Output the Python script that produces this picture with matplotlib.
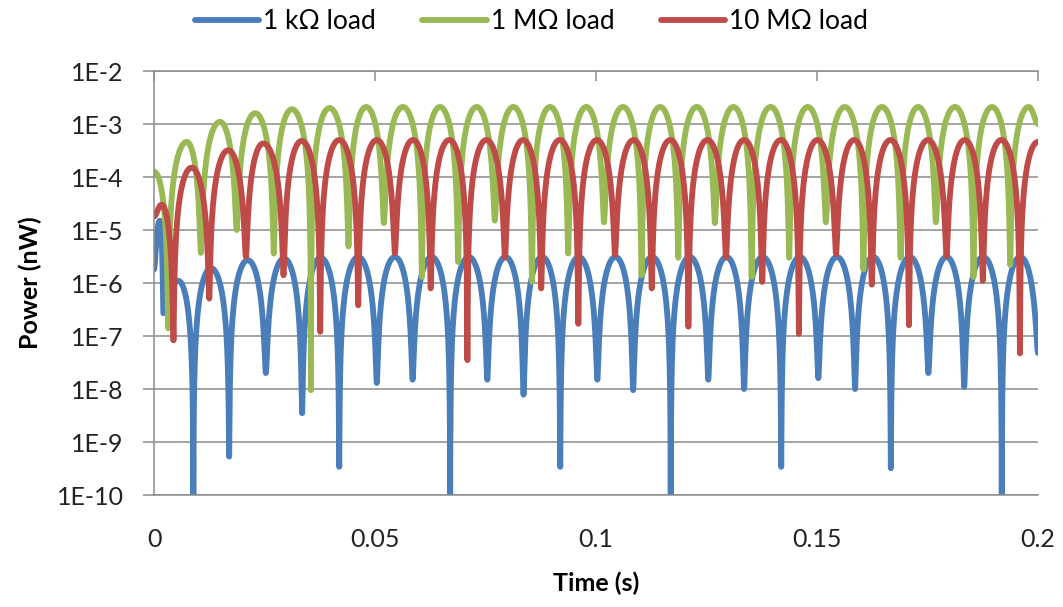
import numpy as np
import matplotlib.pyplot as plt
from matplotlib.ticker import FixedLocator, FuncFormatter, NullLocator

plt.rcParams['font.family'] = ['Lato', 'DejaVu Sans']

# turning points of each trace (time in s, power in nW): start, then dip/peak pairs, then end
blue_t = [0, 0.0013, 0.0021, 0.0055,
          0.0089, 0.0129, 0.0170, 0.0212, 0.0253, 0.0294, 0.0335, 0.0377,
          0.0419, 0.0462, 0.0504, 0.0545, 0.0585, 0.0628, 0.0670, 0.0712,
          0.0754, 0.0795, 0.0836, 0.0878, 0.0919, 0.0961, 0.1003, 0.1044,
          0.1084, 0.1127, 0.1169, 0.1212, 0.1254, 0.1295, 0.1335, 0.1377,
          0.1419, 0.1461, 0.1503, 0.1545, 0.1586, 0.1627, 0.1667, 0.1710,
          0.1752, 0.1793, 0.1833, 0.1876, 0.1918, 0.1960, 0.2000]
blue_p = [1.8e-6, 1.5e-5, 2.7e-7, 1.1e-6,
          1e-10, 1.9e-6, 5.3e-10, 2.7e-6, 2e-8, 2.9e-6, 3.5e-9, 3.0e-6,
          3.4e-10, 3.1e-6, 1.3e-8, 3.1e-6, 1.5e-8, 3.1e-6, 1e-10, 3.1e-6,
          1.5e-8, 3.1e-6, 7.8e-9, 3.1e-6, 3.4e-10, 3.1e-6, 1.5e-8, 3.1e-6,
          9.5e-9, 3.1e-6, 1e-10, 3.1e-6, 1.5e-8, 3.1e-6, 1e-8, 3.1e-6,
          3.4e-10, 3.1e-6, 1.6e-8, 3.1e-6, 1e-8, 3.1e-6, 3.2e-10, 3.1e-6,
          2e-8, 3.1e-6, 1.1e-8, 3.1e-6, 1e-10, 3.1e-6, 4.8e-8]

green_t = [0,
           0.0032, 0.0074, 0.0106, 0.0149, 0.0187, 0.0229, 0.0271, 0.0312,
           0.0355, 0.0397, 0.0440, 0.0480, 0.0520, 0.0563, 0.0606, 0.0647,
           0.0688, 0.0730, 0.0771, 0.0813, 0.0855, 0.0896, 0.0937, 0.0978,
           0.1018, 0.1061, 0.1103, 0.1145, 0.1186, 0.1228, 0.1269, 0.1311,
           0.1352, 0.1395, 0.1437, 0.1479, 0.1520, 0.1563, 0.1605, 0.1647,
           0.1689, 0.1729, 0.1769, 0.1812, 0.1854, 0.1896, 0.1937, 0.1979,
           0.2000]
green_p = [1.26e-4,
           1.4e-7, 4.6e-4, 3.7e-6, 1.1e-3, 1e-5, 1.6e-3, 3.6e-6, 1.9e-3,
           9.5e-9, 2.0e-3, 4.9e-6, 2.1e-3, 1.35e-5, 2.1e-3, 1.3e-6, 2.1e-3,
           2.5e-6, 2.1e-3, 1.5e-5, 2.1e-3, 1.05e-6, 2.1e-3, 3.6e-6, 2.1e-3,
           1.4e-5, 2.1e-3, 1.4e-6, 2.1e-3, 3e-6, 2.1e-3, 1.35e-5, 2.1e-3,
           1.3e-6, 2.1e-3, 3e-6, 2.1e-3, 1.4e-5, 2.1e-3, 1.8e-6, 2.1e-3,
           3e-6, 2.1e-3, 1.4e-5, 2.1e-3, 1.3e-6, 2.1e-3, 2.2e-6, 2.1e-3,
           1.0e-3]

red_t = [0, 0.0017,
         0.0044, 0.0085, 0.0125, 0.0168, 0.0208, 0.0247, 0.0293, 0.0334,
         0.0376, 0.0419, 0.0462, 0.0504, 0.0545, 0.0586, 0.0626, 0.0668,
         0.0709, 0.0752, 0.0794, 0.0835, 0.0876, 0.0918, 0.0960, 0.1002,
         0.1043, 0.1085, 0.1126, 0.1168, 0.1209, 0.1252, 0.1294, 0.1335,
         0.1376, 0.1418, 0.1459, 0.1501, 0.1543, 0.1584, 0.1624, 0.1666,
         0.1708, 0.1751, 0.1793, 0.1834, 0.1875, 0.1917, 0.1959, 0.2000]
red_p = [1.8e-5, 3.0e-5,
         8.3e-8, 1.5e-4, 5.1e-7, 3.2e-4, 3.1e-6, 4.3e-4, 1.4e-6, 4.8e-4,
         1.2e-7, 5e-4, 3.8e-7, 5e-4, 3.6e-6, 5e-4, 7.9e-7, 5e-4,
         3.5e-8, 5e-4, 3e-6, 5e-4, 7.9e-7, 5e-4, 1.7e-7, 5e-4,
         3.4e-6, 5e-4, 7.9e-7, 5e-4, 1.5e-7, 5e-4, 3e-6, 5e-4,
         1.05e-6, 5e-4, 1.1e-7, 5e-4, 3.5e-6, 5e-4, 9.3e-7, 5e-4,
         1.6e-7, 5e-4, 3.2e-6, 5e-4, 1.1e-6, 5e-4, 4.7e-8, 4.6e-4]

labels = ['1 k\u03a9 load', '1 M\u03a9 load', '10 M\u03a9 load']
colors = ['#4a7ebb', '#98b954', '#be4b48']
y_ticks = [1e-10, 1e-9, 1e-8, 1e-7, 1e-6, 1e-5, 1e-4, 1e-3, 1e-2]
x_ticks = [0, 0.05, 0.1, 0.15, 0.2]


def trace(t_key, p_key, n=80):
    # smooth swing between successive turning points
    ts, ps = [], []
    for i in range(len(t_key) - 1):
        s = np.linspace(0, 1, n, endpoint=False)
        w = np.cos(np.pi / 2 * s) ** 2
        ts.append(t_key[i] + (t_key[i + 1] - t_key[i]) * s)
        ps.append(p_key[i + 1] + (p_key[i] - p_key[i + 1]) * w)
    ts.append([t_key[-1]])
    ps.append([p_key[-1]])
    return np.concatenate(ts), np.concatenate(ps)


fig = plt.figure(figsize=(10.63, 6.07), dpi=100)
ax = fig.add_axes([0.1449, 0.1845, 0.8316, 0.6985])

grid_c = '#8c8c8c'
for t_key, p_key, c, lab in zip([blue_t, green_t, red_t], [blue_p, green_p, red_p], colors, labels):
    t, p = trace(t_key, p_key)
    ax.plot(t, p, color=c, lw=4.2, label=lab, solid_capstyle='round', solid_joinstyle='round')

ax.set_yscale('log')
ax.set_ylim(1e-10, 1e-2)
ax.set_xlim(0, 0.2)

ax.yaxis.set_major_locator(FixedLocator(y_ticks))
ax.yaxis.set_minor_locator(NullLocator())
ax.yaxis.set_major_formatter(FuncFormatter(lambda v, pos: '1E%d' % round(np.log10(v))))
ax.xaxis.set_major_locator(FixedLocator(x_ticks))
ax.xaxis.set_major_formatter(FuncFormatter(lambda v, pos: '%g' % v))

ax.grid(axis='y', color=grid_c, lw=1.1)
ax.set_axisbelow(True)
for side in ['left', 'top', 'bottom']:
    ax.spines[side].set_color(grid_c)
    ax.spines[side].set_linewidth(1.1)
ax.spines['right'].set_visible(False)

ax.tick_params(axis='y', direction='out', length=8, width=1.1, color=grid_c,
               labelsize=18, pad=14, labelcolor='#222222')
ax.tick_params(axis='x', top=True, bottom=False, labeltop=False, labelbottom=True,
               direction='in', length=7, width=1.1, color=grid_c,
               labelsize=18, pad=24, labelcolor='#222222')

ax.set_ylabel('Power (nW)', fontsize=18, fontweight='bold')
ax.yaxis.set_label_coords(-0.127, 0.5)
ax.set_xlabel('Time (s)', fontsize=18, fontweight='bold')
ax.xaxis.set_label_coords(0.5, -0.18)

fig.legend(loc='center', bbox_to_anchor=(0.5, 0.964), ncol=3, frameon=False,
           fontsize=19, handlelength=2.45, handletextpad=0.15, columnspacing=1.75)

fig.savefig('out.png', dpi=100)
